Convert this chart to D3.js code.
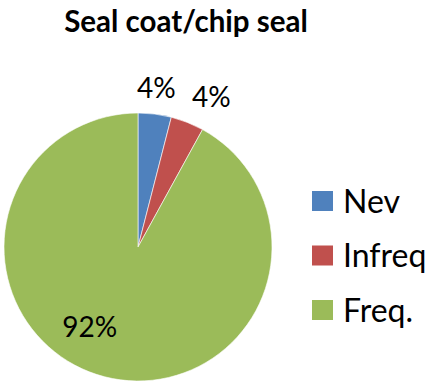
<!DOCTYPE html>
<html>
<head>
<meta charset="utf-8">
<script src="https://cdn.jsdelivr.net/npm/d3@7"></script>
<style>
  html, body { margin: 0; padding: 0; background: #fff; }
  svg { display: block; font-family: Lato, "Open Sans", sans-serif; }
</style>
</head>
<body>
<svg id="chart" width="428" height="381"></svg>
<script>
// Frequency of seal coat / chip seal use
const title = "Seal coat/chip seal";
const categories = ["Nev", "Infreq", "Freq."];
const values = [4, 4, 92];
const colors = ["#4F81BD", "#C0504D", "#9BBB59"];

const svg = d3.select("#chart");
const cx = 138, cy = 247, r = 134;

svg.append("text")
  .attr("x", 186).attr("y", 32)
  .attr("text-anchor", "middle")
  .attr("font-weight", "bold")
  .attr("font-size", 29.5)
  .attr("fill", "#000")
  .text(title);

const color = d3.scaleOrdinal().domain(categories).range(colors);
const pie = d3.pie().sort(null).value(d => d.value);
const data = categories.map((c, i) => ({ name: c, value: values[i] }));
const arcs = pie(data);
const total = d3.sum(values);

const arc = d3.arc().innerRadius(0).outerRadius(r);
const g = svg.append("g").attr("transform", `translate(${cx},${cy})`);

g.selectAll("path").data(arcs).join("path")
  .attr("d", arc)
  .attr("fill", d => color(d.data.name))
  .attr("stroke", "#fff")
  .attr("stroke-width", 0.6);

// Small slices: label sits just outside the rim, its bottom edge on the
// mid-angle ray; large slices: label inside the slice.
const mid = d => (d.startAngle + d.endAngle) / 2;
function placeLabel(d) {
  if (d.value / total < 0.1) {
    const a = mid(d), rho = r + 13;
    const x = rho * Math.sin(a), y = -rho * Math.cos(a);
    const s = Math.sin(a);
    const anchor = Math.abs(s) < 0.2 ? "middle" : (s > 0 ? "start" : "end");
    return { x, y, anchor, dy: "-0.12em" };
  }
  const a = d.startAngle + 0.55 * (d.endAngle - d.startAngle);
  const rho = 0.7 * r;
  return { x: rho * Math.sin(a), y: -rho * Math.cos(a), anchor: "middle", dy: "0.35em" };
}

g.selectAll("text.lbl").data(arcs).join("text")
  .attr("class", "lbl")
  .each(function (d) {
    const p = placeLabel(d);
    d3.select(this)
      .attr("x", p.x).attr("y", p.y)
      .attr("text-anchor", p.anchor)
      .attr("dy", p.dy);
  })
  .attr("font-size", 28)
  .attr("fill", "#000")
  .text(d => d3.format(".0f")(d.value / total * 100) + "%");

// Legend
const legend = svg.append("g").attr("transform", "translate(312,201)");
const y = d3.scalePoint().domain(categories).range([0, 109]);
const rows = legend.selectAll("g").data(categories).join("g")
  .attr("transform", d => `translate(0,${y(d)})`);
rows.append("rect")
  .attr("x", 0).attr("y", -10)
  .attr("width", 21).attr("height", 20)
  .attr("fill", d => color(d));
rows.append("text")
  .attr("x", 31).attr("y", 0)
  .attr("dy", "0.36em")
  .attr("font-size", 32)
  .attr("fill", "#000")
  .text(d => d);
</script>
</body>
</html>
